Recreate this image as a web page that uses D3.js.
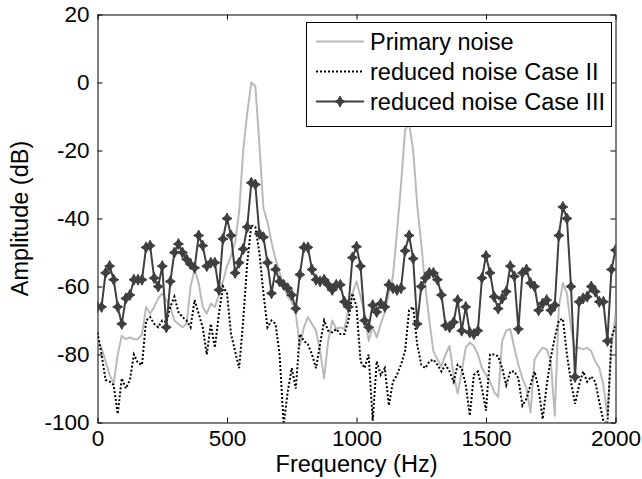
<!DOCTYPE html>
<html><head><meta charset="utf-8">
<script src="https://cdn.jsdelivr.net/npm/d3@7"></script>
<style>
body{margin:0;background:#fff}
svg{display:block}
text{font-family:"Liberation Sans",Arial,Helvetica,sans-serif;fill:#000}
</style>
</head><body>
<svg id="chart" width="642" height="479"></svg>
<script>
// ---- data ----
const frequencies = [0,15.625,31.25,46.875,62.5,78.125,93.75,109.375,125,140.625,156.25,171.875,187.5,203.125,218.75,234.375,250,265.625,281.25,296.875,312.5,328.125,343.75,359.375,375,390.625,406.25,421.875,437.5,453.125,468.75,484.375,500,515.625,531.25,546.875,562.5,578.125,593.75,609.375,625,640.625,656.25,671.875,687.5,703.125,718.75,734.375,750,765.625,781.25,796.875,812.5,828.125,843.75,859.375,875,890.625,906.25,921.875,937.5,953.125,968.75,984.375,1000,1015.625,1031.25,1046.875,1062.5,1078.125,1093.75,1109.375,1125,1140.625,1156.25,1171.875,1187.5,1203.125,1218.75,1234.375,1250,1265.625,1281.25,1296.875,1312.5,1328.125,1343.75,1359.375,1375,1390.625,1406.25,1421.875,1437.5,1453.125,1468.75,1484.375,1500,1515.625,1531.25,1546.875,1562.5,1578.125,1593.75,1609.375,1625,1640.625,1656.25,1671.875,1687.5,1703.125,1718.75,1734.375,1750,1765.625,1781.25,1796.875,1812.5,1828.125,1843.75,1859.375,1875,1890.625,1906.25,1921.875,1937.5,1953.125,1968.75,1984.375,2000];

const primaryNoise = [-75.5,-78,-82,-86,-88.5,-80,-74.5,-75.5,-75,-75.5,-75.5,-74,-66,-68,-66,-63.5,-62,-64,-66,-70,-71,-72,-71,-60,-55,-59,-66,-68,-65,-66,-62.5,-58.5,-54,-51,-47,-38,-20,-9,0,-1,-18,-37,-41,-47,-52,-56,-60,-63,-64.5,-68,-77.5,-72,-69,-71,-73,-79,-87,-76,-70,-72.5,-72,-72.5,-67,-62,-58.5,-63,-68,-76,-72,-75,-71,-67.5,-62,-57,-44,-30,-14,-12,-20,-36,-47.5,-60,-70,-79,-81.5,-83.5,-80,-77.5,-86,-91.5,-85,-78,-76.5,-77.5,-80,-84,-86,-88,-91,-92.5,-76,-73,-72.5,-78,-83,-87,-90,-97,-81.5,-79.5,-78,-78.5,-82,-98,-66,-59,-62,-72,-78.5,-78,-78.5,-78,-79,-82,-84,-89,-98,-78,-68];

const reducedCaseII = [-73.5,-80,-87.5,-88,-89,-97.5,-87,-90,-87.5,-80,-82.5,-83,-70,-69,-71,-72,-70,-70.5,-66,-63,-67.5,-69,-70,-72,-64,-68,-72,-80,-71,-78,-68,-60,-62,-74,-79,-84,-70,-53,-42,-42.5,-50,-62,-72,-70,-71,-80,-100.5,-91,-84,-90,-74,-76,-77,-80,-84,-77,-70,-73,-73.5,-72.5,-74,-74,-70,-62,-66,-82,-84,-80,-99.5,-82,-86,-84,-95,-88,-86,-83,-79,-67,-66,-77,-83,-84,-82,-81.5,-83,-85,-83,-85,-88,-83,-84,-89,-98,-86,-85,-90,-96.5,-80,-80,-80.5,-84,-89,-85,-85,-87,-95,-93,-89,-85,-90,-99,-89,-81,-75,-70,-69.5,-80,-88,-94.5,-89,-85,-88,-86.5,-88,-94,-99.5,-100.5,-75,-71.5];

const reducedCaseIII = [-66,-66,-56,-54,-58,-66,-71,-63.5,-62.5,-58,-58,-58,-48.5,-48,-57.5,-60,-54,-72,-58.5,-50,-47.5,-50,-52,-53.5,-54.5,-45,-48,-54,-53,-53,-61,-46,-40,-45,-56,-53,-49,-42.5,-29.5,-30,-44.5,-45.5,-53,-62,-55,-58.5,-59.5,-60.5,-62.5,-66.5,-56.5,-48.5,-48.5,-55,-58,-58.5,-58,-59.5,-61,-59.5,-59.5,-64.5,-66,-51.5,-48.3,-54,-70,-72,-65.5,-67.5,-65,-66,-59.5,-60.5,-61,-60.5,-49.5,-45,-51.8,-71,-60,-57.5,-56,-56,-58,-62.5,-71.5,-72,-70.5,-64,-73,-66,-73.5,-74,-73,-57.5,-51,-56,-63,-66.5,-63.5,-61.5,-54,-57,-72.5,-56,-55,-59,-60,-67,-65,-64,-67,-65.5,-45,-36.6,-40,-60,-86.6,-64.5,-63.5,-63,-60,-61.5,-64.5,-64.5,-76,-55,-49.3];

const xTicks = [0, 500, 1000, 1500, 2000];
const yTicks = [20, 0, -20, -40, -60, -80, -100];
const seriesNames = ["Primary noise", "reduced noise Case II", "reduced noise Case III"];
const xLabel = "Frequency (Hz)";
const yLabel = "Amplitude (dB)";

// ---- layout ----
const W = 642, H = 479;
const plotL = 97.5, plotR = 615.5, plotT = 14.5, plotB = 422.5;
const tickFont = 22.5, labelFont = 23.5, legendFont = 23.5;
const colPrimary = "#bababa", colII = "#000000", colIII = "#3f3f3f";
const fmt = d => String(d);   // plain hyphen-minus, like the reference

const svg = d3.select("#chart");
svg.append("rect").attr("width", W).attr("height", H).attr("fill", "#fff");

const x = d3.scaleLinear().domain([0, 2000]).range([plotL, plotR]);
const y = d3.scaleLinear().domain([-100, 20]).range([plotB, plotT]);

svg.append("defs").append("clipPath").attr("id", "clip")
  .append("rect").attr("x", plotL).attr("y", plotT)
  .attr("width", plotR - plotL).attr("height", plotB - plotT);

// axes (MATLAB style: ticks inside, closed box)
const styleAxis = g => {
  g.selectAll(".domain").attr("stroke", "#000").attr("stroke-width", 1);
  g.selectAll(".tick line").attr("stroke", "#000").attr("stroke-width", 1);
  g.selectAll(".tick text").attr("font-size", tickFont)
    .attr("font-family", "'Liberation Sans', Arial, sans-serif").attr("fill", "#000");
};

svg.append("g").attr("transform", `translate(0,${plotB})`)
  .call(d3.axisBottom(x).tickValues(xTicks).tickSizeInner(-5).tickSizeOuter(0).tickPadding(8).tickFormat(fmt))
  .call(styleAxis);
svg.append("g").attr("transform", `translate(0,${plotT})`)
  .call(d3.axisTop(x).tickValues(xTicks).tickSizeInner(-5).tickSizeOuter(0).tickFormat(""))
  .call(styleAxis);
svg.append("g").attr("transform", `translate(${plotL},0)`)
  .call(d3.axisLeft(y).tickValues(yTicks).tickSizeInner(-5).tickSizeOuter(0).tickPadding(8).tickFormat(fmt))
  .call(styleAxis);
svg.append("g").attr("transform", `translate(${plotR},0)`)
  .call(d3.axisRight(y).tickValues(yTicks).tickSizeInner(-5).tickSizeOuter(0).tickFormat(""))
  .call(styleAxis);

// series lines
const lineGen = vals => d3.line()
  .x((d, i) => x(frequencies[i]))
  .y(d => y(d))(vals);

const plot = svg.append("g").attr("clip-path", "url(#clip)");
plot.append("path").attr("d", lineGen(primaryNoise))
  .attr("fill", "none").attr("stroke", colPrimary).attr("stroke-width", 2).attr("stroke-linejoin", "round");
plot.append("path").attr("d", lineGen(reducedCaseII))
  .attr("fill", "none").attr("stroke", colII).attr("stroke-width", 2).attr("stroke-dasharray", "2,2");
plot.append("path").attr("d", lineGen(reducedCaseIII))
  .attr("fill", "none").attr("stroke", colIII).attr("stroke-width", 2).attr("stroke-linejoin", "round");

const starPath = "M0,-5.5L1.9,-1.9L5,0L1.9,1.9L0,5.5L-1.9,1.9L-5,0L-1.9,-1.9Z";
plot.selectAll("path.mk").data(reducedCaseIII).enter().append("path")
  .attr("class", "mk")
  .attr("d", starPath)
  .attr("transform", (d, i) => `translate(${x(frequencies[i])},${y(d)})`)
  .attr("fill", colIII).attr("stroke", colIII).attr("stroke-width", 1).attr("stroke-linejoin", "round");

// axis labels
svg.append("text").attr("x", (plotL + plotR) / 2).attr("y", 472)
  .attr("text-anchor", "middle").attr("font-size", labelFont).text(xLabel);
svg.append("text").attr("transform", `translate(28,${(plotT + plotB) / 2}) rotate(-90)`)
  .attr("text-anchor", "middle").attr("font-size", labelFont).text(yLabel);

// legend
const lg = svg.append("g");
lg.append("rect").attr("x", 306.5).attr("y", 22.5).attr("width", 305).attr("height", 104)
  .attr("fill", "#fff").attr("stroke", "#000").attr("stroke-width", 1);
const rowsY = [41.5, 71.5, 101.5];
const styles = [
  {stroke: colPrimary, dash: null, marker: false},
  {stroke: colII, dash: "2,2", marker: false},
  {stroke: colIII, dash: null, marker: true}
];
seriesNames.forEach((name, i) => {
  const yy = rowsY[i];
  const ln = lg.append("line").attr("x1", 316).attr("x2", 364).attr("y1", yy).attr("y2", yy)
    .attr("stroke", styles[i].stroke).attr("stroke-width", 2);
  if (styles[i].dash) ln.attr("stroke-dasharray", styles[i].dash);
  if (styles[i].marker) {
    lg.append("path").attr("d", starPath).attr("transform", `translate(340,${yy})`)
      .attr("fill", colIII).attr("stroke", colIII).attr("stroke-width", 1);
  }
  lg.append("text").attr("x", 370).attr("y", yy + 8.5).attr("font-size", legendFont).text(name);
});
</script>
</body></html>
